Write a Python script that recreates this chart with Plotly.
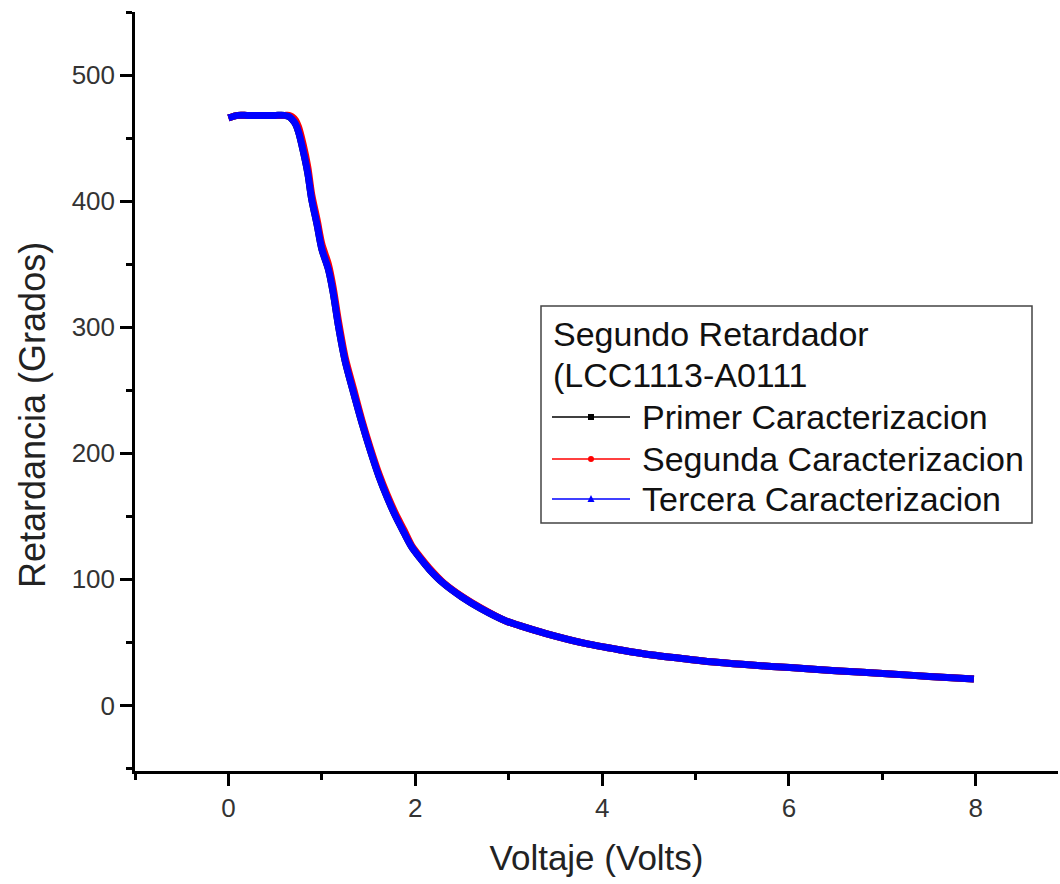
import plotly.graph_objects as go

# Voltage (V)
voltaje = [0.0, 0.1, 0.2, 0.3, 0.4, 0.5, 0.6, 0.65, 0.68, 0.72, 0.75, 0.80, 0.85, 0.89, 0.95,
           1.00, 1.07, 1.12, 1.18, 1.25, 1.34, 1.43, 1.52, 1.61, 1.70, 1.79, 1.88, 1.96, 2.05,
           2.15, 2.30, 2.50, 2.70, 2.97, 3.11, 3.40, 3.83, 4.20, 4.54, 4.94, 5.26, 5.60, 6.01,
           6.50, 7.09, 7.50, 7.98]

primer = [466, 468, 468, 468, 468, 468, 468, 467, 465, 461, 455, 440, 422, 402, 381,
          362, 346, 328, 300, 273, 248, 224, 202, 182, 165, 150, 137, 126, 117,
          108, 97, 86, 77, 67, 63.5, 57, 49, 44, 40, 36.5, 34, 32, 30,
          27.5, 25, 23, 21]
segunda = [466, 468, 468, 468, 468, 468, 468, 468, 467, 464, 459, 445, 427, 406, 385,
           366, 350, 332, 304, 276, 251, 226, 204, 184, 167, 152, 139, 127, 118,
           109, 97.5, 86.5, 77.5, 67, 63.5, 57, 49, 44, 40, 36.5, 34, 32, 30,
           27.5, 25, 23, 21]
tercera = [466, 468, 468, 468, 468, 468, 468, 467, 465, 461, 455, 440, 422, 402, 381,
           362, 346, 328, 300, 273, 248, 224, 202, 182, 165, 150, 137, 126, 117,
           108, 97, 86, 77, 67, 63.5, 57, 49, 44, 40, 36.5, 34, 32, 30,
           27.5, 25, 23, 21]

legend_title = ["Segundo Retardador", "(LCC1113-A0111"]
series_names = ["Primer Caracterizacion", "Segunda Caracterizacion", "Tercera Caracterizacion"]
series_vals = [primer, segunda, tercera]
colors = ["#000000", "#ff0000", "#0000ff"]
x_title = "Voltaje (Volts)"
y_title = "Retardancia (Grados)"

fig = go.Figure()
for name, vals, c in zip(series_names, series_vals, colors):
    fig.add_trace(go.Scatter(x=voltaje, y=vals, mode="lines", name=name,
                             line=dict(color=c, width=7, shape="spline", smoothing=0.8),
                             showlegend=False))

# plot-area pixel geometry (for placing the hand-drawn legend box)
L, R, T, B = 135, 1058, 12, 771
def px(x):
    return (x - L) / (R - L)
def py(y):
    return (B - y) / (B - T)

lfont = dict(family="Liberation Sans, Arial", size=34, color="#111111")
shapes = [dict(type="rect", xref="paper", yref="paper",
               x0=px(541), x1=px(1032), y0=py(523), y1=py(306),
               line=dict(color="#444444", width=1.5), fillcolor="white", layer="above")]
annotations = []
for i, t in enumerate(legend_title):
    annotations.append(dict(text=t, xref="paper", yref="paper", x=px(551), y=py(334 + 41 * i),
                            xanchor="left", yanchor="middle", showarrow=False, font=lfont))
row_y = [417, 459, 499]
for name, c, yy, sym in zip(series_names, colors, row_y, ["sq", "ci", "tr"]):
    annotations.append(dict(text=name, xref="paper", yref="paper", x=px(640), y=py(yy),
                            xanchor="left", yanchor="middle", showarrow=False, font=lfont))
    shapes.append(dict(type="line", xref="paper", yref="paper", x0=px(552), x1=px(630),
                       y0=py(yy), y1=py(yy), line=dict(color=c, width=1.5), layer="above"))
    if sym == "sq":
        shapes.append(dict(type="rect", xref="paper", yref="paper", x0=px(588), x1=px(594),
                           y0=py(yy + 3), y1=py(yy - 3), line=dict(width=0), fillcolor=c, layer="above"))
    elif sym == "ci":
        shapes.append(dict(type="circle", xref="paper", yref="paper", x0=px(588), x1=px(594),
                           y0=py(yy + 3), y1=py(yy - 3), line=dict(width=0), fillcolor=c, layer="above"))
    else:
        shapes.append(dict(type="path", xref="paper", yref="paper",
                           path=f"M {px(587.5)} {py(yy+3)} L {px(594.5)} {py(yy+3)} L {px(591)} {py(yy-4)} Z",
                           line=dict(width=0), fillcolor=c, layer="above"))

tick_font = dict(family="Liberation Sans, Arial", size=26, color="#333333")
title_font = dict(family="Liberation Sans, Arial", size=35, color="#222222")

# y-axis title placed as rotated text (slightly below centre, as in the reference)
annotations.append(dict(text=y_title, xref="paper", yref="paper", x=px(32), y=py(415),
                        xanchor="center", yanchor="middle", textangle=-90, showarrow=False,
                        font=dict(family="Liberation Sans, Arial", size=36, color="#222222")))

fig.update_layout(
    width=1060, height=884,
    paper_bgcolor="white", plot_bgcolor="white",
    margin=dict(l=L, r=1060 - R, t=T, b=884 - B),
    font=dict(family="Liberation Sans, Arial", color="#222222"),
    showlegend=False,
    shapes=shapes, annotations=annotations,
)
fig.update_xaxes(
    range=[-1, 8.88], showgrid=False, zeroline=False,
    showline=True, linecolor="black", linewidth=2.5,
    ticks="outside", ticklen=12, tickwidth=2.5, tickcolor="black",
    tick0=0, dtick=2, tickfont=tick_font,
    minor=dict(ticks="outside", ticklen=6, tickwidth=2.5, tickcolor="black", dtick=1, tick0=0),
    title=dict(text=x_title, font=title_font, standoff=24),
)
fig.update_yaxes(
    range=[-52, 550], showgrid=False, zeroline=False,
    showline=True, linecolor="black", linewidth=2.5,
    ticks="outside", ticklen=12, tickwidth=2.5, tickcolor="black",
    tick0=0, dtick=100, tickfont=tick_font,
    minor=dict(ticks="outside", ticklen=6, tickwidth=2.5, tickcolor="black", dtick=50, tick0=0),
)

fig.write_html("out.html")
